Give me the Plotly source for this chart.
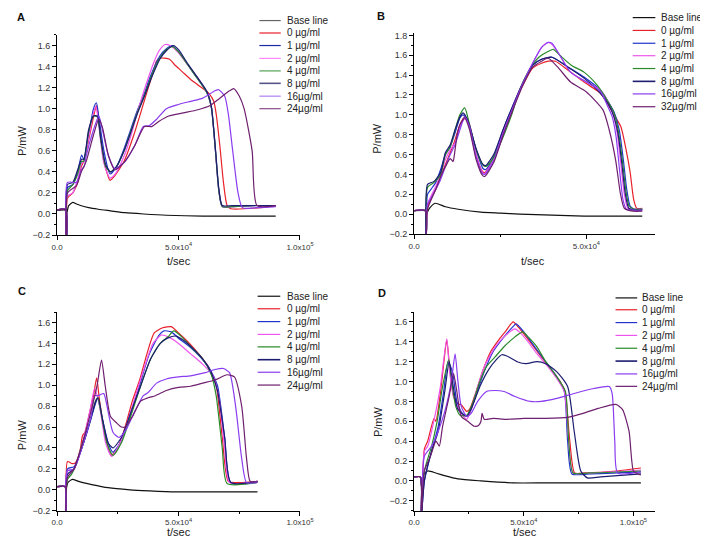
import plotly.graph_objects as go

W, H = 708, 539
FONT = "Liberation Sans, Arial, sans-serif"

# ---------------- tick labels / legend labels ----------------
X_TICKVALS = [0, 50000, 100000]
X_TICKTEXT = ["0.0", "5.0x10<sup>4</sup>", "1.0x10<sup>5</sup>"]
X_MINOR = [25000, 75000]
LABELS_ACD = ["Base line", "0 µg/ml", "1 µg/ml", "2 µg/ml", "4 µg/ml", "8 µg/ml", "16µg/ml", "24µg/ml"]
LABELS_B = ["Base line", "0 µg/ml", "1 µg/ml", "2 µg/ml", "4 µg/ml", "8 µg/ml", "16µg/ml", "32µg/ml"]
COLORS = ["#111111", "#e8202a", "#2233cc", "#ee55ee", "#2a8a2a", "#1c1c70", "#8a3cf0", "#6e1f6e"]
LEG_COLORS_A = ["#666666", "#e8202a", "#1a2aa0", "#ff88ff", "#55a055", "#555588", "#b080f0", "#8a4a8a"]

# ---------------- Panel A ----------------
A_t_base = [0, 3600, 3900, 4800, 6500, 8000, 10000, 13000, 17000, 22000, 28000, 35600, 45000, 60000, 75000, 90000]
A_p_base = [0.035, 0.035, 0.0, 0.08, 0.11, 0.095, 0.078, 0.06, 0.045, 0.03, 0.012, 0.0, -0.012, -0.02, -0.02, -0.02]
A_t_0 = [0, 3600, 3800, 4300, 6500, 8500, 10000, 11000, 13000, 15000, 16200, 17200, 19300, 21800, 23300, 27600, 31600, 34300, 36900, 39600, 40900, 42300, 46300, 48300, 51600, 54900, 58300, 62300, 64500, 65500, 67000, 68500, 70000, 71500, 83600, 90000]
A_p_0 = [0.04, 0.04, -0.3, 0.15, 0.2, 0.3, 0.45, 0.5, 0.7, 0.92, 1.03, 0.9, 0.5, 0.32, 0.35, 0.5, 0.75, 0.95, 1.15, 1.35, 1.45, 1.48, 1.47, 1.42, 1.35, 1.28, 1.22, 1.15, 1.07, 0.95, 0.65, 0.3, 0.08, 0.05, 0.06, 0.08]
A_t_1 = [0, 3600, 3800, 4300, 6500, 8500, 10100, 11000, 13000, 15000, 16200, 17200, 19300, 21800, 24500, 27600, 30000, 33000, 36000, 38300, 42300, 45000, 47500, 50000, 54000, 58000, 61000, 62300, 63600, 65200, 66600, 68000, 72000, 80000, 90000]
A_p_1 = [0.04, 0.04, -0.3, 0.25, 0.28, 0.4, 0.56, 0.52, 0.75, 1.0, 1.055, 0.92, 0.6, 0.38, 0.45, 0.62, 0.78, 0.98, 1.15, 1.3, 1.5, 1.57, 1.6, 1.54, 1.41, 1.28, 1.18, 1.12, 1.0, 0.6, 0.22, 0.07, 0.07, 0.08, 0.08]
A_t_2 = [0, 3600, 3800, 4300, 6500, 8500, 10100, 11000, 13000, 14900, 16000, 17000, 19100, 21800, 24000, 27600, 30500, 33500, 36500, 39500, 42000, 44500, 46500, 50000, 54000, 58000, 61000, 62300, 63600, 65200, 66600, 68000, 72000, 80000, 90000]
A_p_2 = [0.04, 0.04, -0.3, 0.17, 0.2, 0.33, 0.48, 0.5, 0.72, 0.95, 1.02, 0.88, 0.5, 0.34, 0.38, 0.55, 0.75, 1.0, 1.22, 1.42, 1.55, 1.61, 1.6, 1.53, 1.41, 1.29, 1.18, 1.12, 1.0, 0.6, 0.22, 0.07, 0.07, 0.08, 0.08]
A_t_4 = [0, 3600, 3800, 4300, 6500, 8500, 10100, 11000, 13000, 15000, 16600, 18000, 20000, 22000, 24500, 27600, 30000, 33000, 36000, 39000, 42300, 45000, 47500, 50000, 54000, 58000, 61000, 62300, 63600, 65200, 66600, 68000, 72000, 80000, 90000]
A_p_4 = [0.04, 0.04, -0.3, 0.22, 0.28, 0.38, 0.5, 0.5, 0.78, 0.93, 0.92, 0.7, 0.45, 0.4, 0.45, 0.6, 0.76, 0.96, 1.13, 1.32, 1.48, 1.56, 1.59, 1.54, 1.41, 1.28, 1.18, 1.12, 1.0, 0.6, 0.22, 0.07, 0.07, 0.08, 0.08]
A_t_8 = [0, 3600, 3800, 4300, 6500, 8500, 10100, 11000, 13000, 15000, 16600, 18000, 20000, 22000, 24500, 27600, 30000, 33000, 36000, 39000, 42300, 45000, 48000, 50000, 54000, 58000, 61000, 62300, 63600, 65200, 66600, 68000, 72000, 80000, 90000]
A_p_8 = [0.04, 0.04, -0.3, 0.28, 0.3, 0.42, 0.52, 0.52, 0.8, 0.93, 0.93, 0.72, 0.47, 0.4, 0.45, 0.6, 0.75, 0.95, 1.12, 1.3, 1.47, 1.55, 1.6, 1.56, 1.42, 1.29, 1.19, 1.13, 1.01, 0.62, 0.24, 0.08, 0.08, 0.08, 0.08]
A_t_16 = [0, 3600, 3800, 4300, 8000, 10000, 11200, 12000, 15000, 17200, 18700, 21200, 23800, 28000, 32000, 35500, 38000, 41000, 45000, 50000, 55000, 60000, 65000, 66500, 69000, 70500, 72300, 74500, 76300, 83000, 90000]
A_p_16 = [0.04, 0.04, -0.3, 0.3, 0.3, 0.42, 0.45, 0.55, 0.8, 0.93, 0.8, 0.55, 0.43, 0.5, 0.65, 0.83, 0.84, 0.9, 1.0, 1.04, 1.07, 1.1, 1.17, 1.18, 1.12, 0.95, 0.6, 0.2, 0.06, 0.06, 0.07]
A_t_24 = [0, 3600, 3800, 4300, 8000, 10000, 12000, 15000, 17200, 18700, 21200, 23800, 28000, 32000, 36000, 39000, 42000, 46000, 52000, 58000, 63000, 67000, 71000, 72700, 75000, 77000, 80300, 82300, 90000]
A_p_24 = [0.04, 0.04, -0.3, 0.2, 0.27, 0.4, 0.5, 0.75, 0.9, 0.82, 0.55, 0.42, 0.5, 0.65, 0.83, 0.83, 0.88, 0.93, 0.96, 0.99, 1.03, 1.1, 1.17, 1.19, 1.12, 1.0, 0.6, 0.08, 0.08]

# ---------------- Panel B ----------------
B_t_base = [0, 3300, 3500, 4500, 6100, 9100, 12800, 19400, 25000, 30600, 40000, 49300, 58000, 66200]
B_p_base = [0.035, 0.035, 0.0, 0.06, 0.11, 0.075, 0.05, 0.02, 0.01, 0.0, -0.01, -0.02, -0.02, -0.02]
B_t_0 = [0, 3300, 3450, 3900, 4900, 6300, 7700, 9100, 10500, 11900, 13300, 14700, 16100, 18000, 19850, 20500, 23100, 25900, 29000, 31600, 34400, 37000, 39000, 41000, 44700, 49300, 54000, 56000, 58000, 60000, 61500, 62700, 63700, 64600, 66200]
B_p_0 = [0.035, 0.035, -0.3, 0.08, 0.15, 0.25, 0.38, 0.5, 0.62, 0.75, 0.9, 0.98, 0.9, 0.6, 0.43, 0.42, 0.55, 0.82, 1.1, 1.3, 1.47, 1.52, 1.54, 1.54, 1.45, 1.33, 1.22, 1.12, 1.0, 0.88, 0.65, 0.42, 0.15, 0.06, 0.06]
B_t_1 = [0, 3300, 3450, 3900, 4900, 6300, 7700, 9100, 10500, 11900, 13300, 14200, 15500, 18000, 20000, 20800, 23100, 25900, 29000, 31600, 34400, 37000, 40000, 44700, 49300, 54000, 56000, 58000, 59500, 60700, 61700, 62700, 64000, 66200]
B_p_1 = [0.035, 0.035, -0.3, 0.2, 0.25, 0.32, 0.45, 0.6, 0.68, 0.82, 0.97, 1.0, 0.95, 0.65, 0.46, 0.45, 0.58, 0.85, 1.12, 1.32, 1.5, 1.56, 1.58, 1.48, 1.38, 1.25, 1.15, 1.03, 0.85, 0.55, 0.25, 0.08, 0.05, 0.05]
B_t_2 = [0, 3300, 3450, 3900, 4900, 6300, 7700, 9100, 10500, 11900, 13300, 14700, 16100, 18000, 19850, 20500, 23100, 25900, 29000, 31600, 34400, 37000, 38900, 40000, 41900, 45400, 50000, 54000, 56500, 57800, 59000, 60000, 61000, 62000, 64000, 66200]
B_p_2 = [0.035, 0.035, -0.3, 0.1, 0.18, 0.28, 0.4, 0.55, 0.65, 0.72, 0.88, 0.96, 0.9, 0.6, 0.42, 0.41, 0.55, 0.83, 1.12, 1.33, 1.52, 1.68, 1.73, 1.71, 1.62, 1.43, 1.33, 1.25, 1.12, 1.0, 0.8, 0.5, 0.2, 0.06, 0.05, 0.05]
B_t_4 = [0, 3300, 3450, 3900, 5800, 7700, 9100, 10500, 11900, 13300, 14700, 16100, 18000, 19850, 20800, 22700, 25500, 28300, 30600, 33400, 36200, 39000, 40400, 42300, 45600, 49300, 53100, 56000, 58000, 59200, 60400, 61400, 62400, 64000, 66200]
B_p_4 = [0.035, 0.035, -0.3, 0.27, 0.32, 0.4, 0.6, 0.68, 0.85, 1.0, 1.07, 0.9, 0.65, 0.5, 0.48, 0.55, 0.75, 1.0, 1.25, 1.45, 1.58, 1.64, 1.66, 1.6, 1.5, 1.43, 1.3, 1.15, 1.02, 0.85, 0.55, 0.25, 0.08, 0.05, 0.05]
B_t_8 = [0, 3300, 3450, 3900, 5800, 7700, 9100, 10500, 11900, 13300, 14200, 15500, 18000, 20000, 20800, 23100, 25900, 29000, 31600, 34400, 37000, 40000, 44700, 49300, 54000, 56500, 58000, 59200, 60300, 61300, 62300, 64000, 66200]
B_p_8 = [0.035, 0.035, -0.3, 0.3, 0.33, 0.42, 0.62, 0.7, 0.85, 0.98, 1.02, 0.95, 0.66, 0.5, 0.49, 0.6, 0.86, 1.12, 1.32, 1.5, 1.56, 1.58, 1.48, 1.37, 1.22, 1.1, 0.98, 0.8, 0.5, 0.2, 0.06, 0.04, 0.04]
B_t_16 = [0, 3300, 3450, 3900, 4900, 6300, 7700, 9100, 10500, 11900, 13300, 14700, 16100, 18000, 19850, 20500, 23100, 25900, 29000, 31600, 34400, 37000, 38900, 40000, 41900, 45400, 50000, 54000, 56000, 57500, 58600, 59600, 60600, 61600, 63500, 66200]
B_p_16 = [0.035, 0.035, -0.3, 0.1, 0.16, 0.25, 0.35, 0.48, 0.6, 0.7, 0.85, 0.98, 0.88, 0.58, 0.41, 0.4, 0.54, 0.82, 1.1, 1.32, 1.52, 1.68, 1.73, 1.72, 1.62, 1.43, 1.33, 1.24, 1.1, 0.98, 0.78, 0.45, 0.15, 0.05, 0.04, 0.04]
B_t_32 = [0, 3300, 3450, 3900, 5000, 6300, 7700, 9100, 10500, 11300, 11700, 12500, 13300, 14700, 16100, 18000, 19850, 20500, 23100, 25900, 29000, 31600, 34400, 37000, 38900, 41700, 45400, 50000, 54800, 56600, 58500, 59900, 61000, 63500, 66200]
B_p_32 = [0.035, 0.035, -0.3, 0.05, 0.15, 0.25, 0.38, 0.48, 0.56, 0.53, 0.6, 0.8, 0.9, 0.97, 0.85, 0.55, 0.39, 0.38, 0.52, 0.8, 1.08, 1.3, 1.48, 1.54, 1.57, 1.48, 1.33, 1.23, 1.05, 0.85, 0.54, 0.2, 0.06, 0.03, 0.03]

# ---------------- Panel C ----------------
C_t_base = [0, 3300, 3600, 4500, 6300, 8900, 14300, 21000, 30000, 38000, 49000, 65000, 82500]
C_p_base = [0.03, 0.03, 0.0, 0.07, 0.1, 0.08, 0.05, 0.02, 0.0, -0.01, -0.02, -0.02, -0.02]
C_t_0 = [0, 3300, 3500, 4300, 6300, 7600, 9500, 10500, 11500, 13500, 15000, 16300, 17500, 20000, 22300, 25000, 28000, 31000, 34000, 37000, 40000, 43500, 47000, 50000, 54500, 59000, 62500, 65500, 68000, 70500, 75000, 82500]
C_p_0 = [0.03, 0.03, -0.3, 0.27, 0.25, 0.26, 0.38, 0.52, 0.55, 0.75, 0.9, 1.07, 0.85, 0.5, 0.33, 0.4, 0.6, 0.85, 1.05, 1.3, 1.5, 1.55, 1.56, 1.5, 1.4, 1.28, 1.17, 1.0, 0.5, 0.08, 0.07, 0.08]
C_t_1 = [0, 3300, 3500, 4300, 7000, 10500, 13000, 15500, 16700, 18000, 21000, 23000, 26000, 30000, 34000, 38000, 42000, 44000, 47000, 50000, 54500, 59000, 63000, 66000, 69000, 71500, 82500]
C_p_1 = [0.03, 0.03, -0.3, 0.2, 0.22, 0.42, 0.6, 0.8, 0.88, 0.75, 0.45, 0.36, 0.45, 0.7, 1.0, 1.3, 1.48, 1.52, 1.51, 1.45, 1.37, 1.27, 1.15, 1.0, 0.5, 0.07, 0.07]
C_t_2 = [0, 3300, 3500, 4300, 7000, 10500, 13500, 15500, 17500, 20000, 22500, 26000, 31000, 35000, 39500, 43000, 46000, 50000, 55000, 60000, 64000, 66500, 69000, 71000, 82500]
C_p_2 = [0.03, 0.03, -0.3, 0.18, 0.2, 0.45, 0.75, 0.97, 0.8, 0.45, 0.32, 0.45, 0.8, 1.1, 1.4, 1.48, 1.46, 1.4, 1.3, 1.2, 1.1, 0.9, 0.4, 0.07, 0.08]
C_t_4 = [0, 3300, 3500, 4300, 6000, 8000, 10500, 13500, 15800, 16700, 18000, 20500, 23000, 26500, 31000, 34500, 38500, 42500, 46000, 48000, 51000, 55000, 60000, 63500, 65500, 68000, 70000, 82500]
C_p_4 = [0.03, 0.03, -0.3, 0.1, 0.15, 0.25, 0.45, 0.65, 0.85, 0.88, 0.75, 0.45, 0.33, 0.45, 0.75, 1.0, 1.25, 1.4, 1.47, 1.52, 1.47, 1.37, 1.25, 1.1, 0.9, 0.4, 0.06, 0.07]
C_t_8 = [0, 3300, 3500, 4300, 7000, 10500, 13500, 16000, 17000, 18500, 21000, 23000, 26500, 30500, 34500, 38500, 42500, 45500, 49000, 52000, 56000, 60000, 63500, 66000, 69000, 71500, 82500]
C_p_8 = [0.03, 0.03, -0.3, 0.15, 0.2, 0.42, 0.65, 0.85, 0.88, 0.7, 0.45, 0.4, 0.5, 0.75, 1.0, 1.25, 1.4, 1.45, 1.47, 1.43, 1.35, 1.25, 1.12, 0.95, 0.5, 0.07, 0.08]
C_t_16 = [0, 3300, 3500, 4300, 7000, 10500, 14000, 15500, 17000, 19200, 21000, 23000, 25500, 28500, 32000, 35500, 37500, 41000, 45000, 50000, 55000, 61000, 65000, 68500, 71000, 73500, 76000, 78000, 82500]
C_p_16 = [0.03, 0.03, -0.3, 0.18, 0.2, 0.42, 0.7, 0.9, 0.9, 0.92, 0.75, 0.55, 0.5, 0.58, 0.75, 0.9, 0.93, 1.02, 1.06, 1.08, 1.09, 1.12, 1.15, 1.16, 1.12, 0.8, 0.3, 0.07, 0.07]
C_t_24 = [0, 3300, 3500, 4300, 7000, 10500, 14500, 16500, 18300, 19800, 22000, 24500, 26500, 28000, 31000, 34500, 37500, 40500, 45000, 50000, 55000, 60000, 65000, 70000, 73000, 76000, 78000, 79500, 82500]
C_p_24 = [0.03, 0.03, -0.3, 0.12, 0.2, 0.45, 0.8, 1.0, 1.24, 1.0, 0.7, 0.64, 0.6, 0.6, 0.7, 0.85, 0.88, 0.9, 0.95, 0.98, 0.99, 1.02, 1.05, 1.1, 1.08, 0.8, 0.3, 0.08, 0.08]

# ---------------- Panel D ----------------
D_t_base = [0, 2900, 3300, 4300, 6200, 9900, 14300, 20000, 30500, 45000, 60000, 80000, 103400]
D_p_base = [0.04, 0.04, -0.05, 0.06, 0.1, 0.08, 0.05, 0.02, 0.0, -0.02, -0.02, -0.02, -0.02]
D_t_0 = [0, 2900, 3200, 4700, 6200, 9100, 9900, 12100, 13600, 14900, 16200, 18000, 20200, 21400, 23900, 25300, 28300, 31200, 34900, 38600, 41500, 45200, 47400, 51100, 56300, 61400, 66600, 68800, 71000, 73200, 77600, 92400, 103400]
D_p_0 = [0.04, 0.04, -0.4, 0.32, 0.4, 0.63, 0.6, 0.9, 1.2, 1.42, 1.15, 0.85, 0.77, 0.77, 0.7, 0.72, 0.9, 1.1, 1.3, 1.42, 1.5, 1.6, 1.55, 1.45, 1.3, 1.15, 1.0, 0.9, 0.4, 0.08, 0.08, 0.1, 0.13]
D_t_1 = [0, 2900, 3200, 4700, 8000, 11000, 13500, 15500, 17500, 19500, 22000, 24500, 28000, 32000, 36000, 41000, 45000, 46500, 50000, 55000, 60000, 65000, 68500, 70000, 72000, 80000, 103400]
D_p_1 = [0.04, 0.04, -0.4, 0.0, 0.3, 0.55, 0.9, 1.2, 1.1, 0.8, 0.68, 0.65, 0.85, 1.1, 1.3, 1.45, 1.55, 1.58, 1.5, 1.35, 1.2, 1.05, 0.9, 0.4, 0.07, 0.07, 0.09]
D_t_2 = [0, 2900, 3200, 4700, 6200, 9000, 12000, 14900, 16200, 18000, 20500, 24000, 26000, 29000, 32000, 37000, 41000, 46000, 48000, 52000, 56000, 61000, 66000, 68500, 70500, 72500, 80000, 103400]
D_p_2 = [0.04, 0.04, -0.4, 0.3, 0.35, 0.6, 0.95, 1.43, 1.1, 0.85, 0.72, 0.62, 0.72, 0.95, 1.15, 1.35, 1.45, 1.53, 1.5, 1.4, 1.28, 1.15, 1.0, 0.9, 0.4, 0.08, 0.08, 0.11]
D_t_4 = [0, 2900, 3200, 4700, 8000, 10500, 13000, 15800, 17200, 19000, 21000, 24000, 27000, 30000, 33000, 37000, 41000, 46000, 49500, 52000, 56000, 60000, 65000, 69000, 70500, 72500, 80000, 103400]
D_p_4 = [0.04, 0.04, -0.4, 0.1, 0.35, 0.6, 0.95, 1.22, 1.0, 0.75, 0.66, 0.66, 0.8, 1.0, 1.15, 1.25, 1.35, 1.45, 1.5, 1.45, 1.35, 1.2, 1.05, 0.9, 0.4, 0.08, 0.08, 0.1]
D_t_8 = [0, 2900, 3200, 4700, 8000, 11000, 14000, 16000, 17500, 20000, 24000, 26000, 30000, 34000, 37500, 40000, 43000, 47000, 51000, 56000, 60000, 65000, 70000, 73000, 76000, 79000, 85000, 103400]
D_p_8 = [0.04, 0.04, -0.4, 0.0, 0.3, 0.5, 0.9, 1.2, 1.0, 0.72, 0.65, 0.72, 0.95, 1.12, 1.22, 1.27, 1.25, 1.2, 1.18, 1.2, 1.18, 1.1, 0.95, 0.5, 0.1, 0.03, 0.04, 0.07]
D_t_16 = [0, 2900, 3200, 4700, 8000, 11000, 14000, 17000, 18700, 20000, 21500, 24000, 26000, 29000, 33000, 37000, 41000, 46000, 53000, 58000, 65000, 73000, 82000, 89000, 90300, 91500, 92800, 103400]
D_p_16 = [0.04, 0.04, -0.4, 0.25, 0.35, 0.5, 0.7, 1.0, 1.28, 1.0, 0.75, 0.65, 0.68, 0.8, 0.9, 0.91, 0.9, 0.85, 0.8, 0.8, 0.83, 0.88, 0.93, 0.95, 0.88, 0.4, 0.08, 0.09]
D_t_24 = [0, 2900, 3200, 4700, 7500, 10000, 11500, 13000, 16000, 18000, 19500, 21500, 24500, 27500, 29500, 30500, 31000, 32000, 36000, 42000, 50000, 60000, 70000, 77000, 84000, 92000, 95000, 98000, 100000, 102000, 103400]
D_p_24 = [0.04, 0.04, -0.4, 0.1, 0.25, 0.4, 0.35, 0.55, 0.85, 1.08, 0.9, 0.65, 0.6, 0.55, 0.56, 0.6, 0.68, 0.62, 0.63, 0.62, 0.63, 0.63, 0.64, 0.68, 0.73, 0.77, 0.72, 0.5, 0.1, 0.07, 0.06]

SERIES_A = [(A_t_base, A_p_base), (A_t_0, A_p_0), (A_t_1, A_p_1), (A_t_2, A_p_2), (A_t_4, A_p_4), (A_t_8, A_p_8), (A_t_16, A_p_16), (A_t_24, A_p_24)]
SERIES_B = [(B_t_base, B_p_base), (B_t_0, B_p_0), (B_t_1, B_p_1), (B_t_2, B_p_2), (B_t_4, B_p_4), (B_t_8, B_p_8), (B_t_16, B_p_16), (B_t_32, B_p_32)]
SERIES_C = [(C_t_base, C_p_base), (C_t_0, C_p_0), (C_t_1, C_p_1), (C_t_2, C_p_2), (C_t_4, C_p_4), (C_t_8, C_p_8), (C_t_16, C_p_16), (C_t_24, C_p_24)]
SERIES_D = [(D_t_base, D_p_base), (D_t_0, D_p_0), (D_t_1, D_p_1), (D_t_2, D_p_2), (D_t_4, D_p_4), (D_t_8, D_p_8), (D_t_16, D_p_16), (D_t_24, D_p_24)]


def fx(px):
    return px / W


def fy(py):
    return 1 - py / H


# panel layout in pixels: (left, right, top, bottom)
PANELS = [
    dict(key="A", series=SERIES_A, labels=LABELS_ACD, box=(44.3, 294.3, 25.3, 228.0), xr=[0, 100000], yr=[-0.2, 1.7],
         leg_x=(252.5, 274.5, 278.5), leg_y=[10.7, 23.3, 36.0, 49.0, 61.7, 74.3, 87.3, 100.0],
         letter=(7, 7), ytitle=(9, 132), xtitle=(170, 254)),
    dict(key="B", series=SERIES_B, labels=LABELS_B, box=(411.7, 660.0, 23.3, 227.0), xr=[0, 70000], yr=[-0.2, 1.824],
         leg_x=(636.7, 660.0, 663.5), leg_y=[7.7, 20.7, 33.7, 46.3, 59.3, 72.3, 85.0, 98.0],
         letter=(378, 6), ytitle=(374, 130), xtitle=(534, 254)),
    dict(key="C", series=SERIES_C, labels=LABELS_ACD, box=(44.3, 294.3, 306.0, 507.3), xr=[0, 100000], yr=[-0.2, 1.7],
         leg_x=(250.7, 274.0, 278.5), leg_y=[290.0, 302.7, 315.7, 328.7, 341.3, 354.3, 367.0, 380.0],
         letter=(8, 285), ytitle=(9, 430), xtitle=(170, 529)),
    dict(key="D", series=SERIES_D, labels=LABELS_ACD, box=(411.7, 660.0, 306.0, 507.3), xr=[0, 110000], yr=[-0.3, 1.7],
         leg_x=(619.0, 641.3, 644.7), leg_y=[291.7, 303.7, 316.7, 329.7, 342.7, 355.7, 368.7, 381.3],
         letter=(379, 287), ytitle=(374, 417), xtitle=(526, 529)),
]

fig = go.Figure()
shapes = []
annotations = []
layout_axes = {}

for i, pnl in enumerate(PANELS):
    n = "" if i == 0 else str(i + 1)
    xa, ya = "x" + n, "y" + n
    for j, (t, p) in enumerate(pnl["series"]):
        fig.add_trace(go.Scatter(
            x=t, y=p, mode="lines", xaxis=xa, yaxis=ya, showlegend=False,
            line=dict(color=COLORS[j], width=1.2, shape="spline", smoothing=0.6), hoverinfo="skip"))
    l, r, tp, bt = pnl["box"]
    layout_axes["xaxis" + n] = dict(
        domain=[fx(l), fx(r)], range=pnl["xr"], anchor=ya,
        showline=True, linecolor="black", linewidth=1, showgrid=False, zeroline=False,
        ticks="outside", ticklen=4, tickcolor="black", tickmode="array",
        tickvals=X_TICKVALS, ticktext=X_TICKTEXT,
        tickfont=dict(family=FONT, size=8, color="#333333"),
        minor=dict(ticks="outside", ticklen=2, tickcolor="black", tickmode="array", tickvals=X_MINOR),
    )
    layout_axes["yaxis" + n] = dict(
        domain=[fy(bt), fy(tp)], range=pnl["yr"], anchor=xa,
        showline=True, linecolor="black", linewidth=1, showgrid=False, zeroline=False,
        ticks="outside", ticklen=4, tickcolor="black", dtick=0.2, tick0=0, tickformat=".1f",
        tickfont=dict(family=FONT, size=9, color="#333333"),
        minor=dict(ticks="outside", ticklen=2, tickcolor="black", dtick=0.1, tick0=0),
    )
    # legend (drawn as shapes + text)
    x0, x1, xt = pnl["leg_x"]
    for j, lab in enumerate(pnl["labels"]):
        yy = pnl["leg_y"][j]
        col = LEG_COLORS_A[j] if pnl["key"] == "A" else COLORS[j]
        shapes.append(dict(type="line", xref="paper", yref="paper", x0=fx(x0), x1=fx(x1), y0=fy(yy), y1=fy(yy),
                           line=dict(color=col, width=1.6 if j == 5 else 1.2)))
        annotations.append(dict(xref="paper", yref="paper", x=fx(xt), y=fy(yy), text=lab, showarrow=False,
                                xanchor="left", yanchor="middle", font=dict(family=FONT, size=10, color="#222222")))
    lx, ly = pnl["letter"]
    annotations.append(dict(xref="paper", yref="paper", x=fx(lx), y=fy(ly), text="<b>%s</b>" % pnl["key"], showarrow=False,
                            xanchor="center", yanchor="middle", font=dict(family=FONT, size=11, color="#111111")))
    tx, ty = pnl["ytitle"]
    annotations.append(dict(xref="paper", yref="paper", x=fx(tx), y=fy(ty), text="P/mW", textangle=-90, showarrow=False,
                            xanchor="center", yanchor="middle", font=dict(family=FONT, size=11, color="#222222")))
    sx, sy = pnl["xtitle"]
    annotations.append(dict(xref="paper", yref="paper", x=fx(sx), y=fy(sy), text="t/sec", showarrow=False,
                            xanchor="center", yanchor="middle", font=dict(family=FONT, size=11, color="#222222")))

fig.update_layout(
    width=W, height=H, margin=dict(l=0, r=0, t=0, b=0),
    paper_bgcolor="white", plot_bgcolor="white",
    font=dict(family=FONT), shapes=shapes, annotations=annotations, showlegend=False,
    **layout_axes,
)

fig.write_html("out.html")
